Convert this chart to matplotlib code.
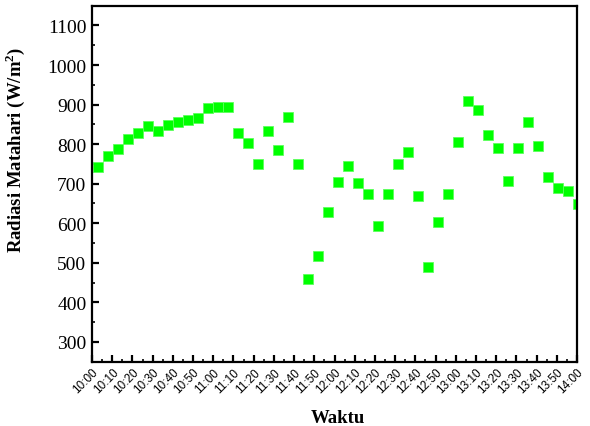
import matplotlib
matplotlib.use("Agg")
import matplotlib.pyplot as plt
from matplotlib.ticker import MultipleLocator, FixedLocator

# minutes after 10:00
minutes = [3.1, 8.1, 13.0, 18.0, 22.9, 27.8, 32.8, 37.7, 42.7, 47.6,
           52.6, 57.5, 62.4, 67.4, 72.3, 77.3, 82.2, 87.2, 92.1, 97.1,
           102.0, 106.9, 111.9, 116.8, 121.8, 126.7, 131.7, 136.6, 141.5, 146.5,
           151.4, 156.4, 161.3, 166.3, 171.2, 176.2, 181.1, 186.0, 191.0, 195.9,
           200.9, 205.8, 210.8, 215.7, 220.7, 225.6, 230.5, 235.5, 240.4]
radiasi = [743, 771, 788, 812, 829, 846, 833, 848, 855, 861,
           867, 892, 895, 893, 829, 804, 751, 832, 784, 868,
           750, 458, 517, 629, 705, 746, 703, 675, 594, 674,
           751, 781, 670, 490, 602, 675, 806, 908, 886, 822,
           791, 707, 789, 857, 796, 718, 689, 682, 648]

tick_pos = list(range(0, 241, 10))
tick_labels = ["10:00", "10:10", "10:20", "10:30", "10:40", "10:50",
               "11:00", "11:10", "11:20", "11:30", "11:40", "11:50",
               "12:00", "12:10", "12:20", "12:30", "12:40", "12:50",
               "13:00", "13:10", "13:20", "13:30", "13:40", "13:50", "14:00"]

plt.rcParams['font.family'] = ['Liberation Serif', 'DejaVu Serif']
plt.rcParams['mathtext.fontset'] = 'custom'
plt.rcParams['mathtext.rm'] = 'Liberation Serif'
plt.rcParams['mathtext.bf'] = 'Liberation Serif:bold'

fig = plt.figure(figsize=(5.9, 4.27), dpi=100)
ax = fig.add_axes([0.156, 0.1506, 0.822, 0.8337])

ax.plot(minutes, radiasi, linestyle='none', marker='s', markersize=7.2,
        markerfacecolor='#00ff00', markeredgecolor='#5cff5c', markeredgewidth=0.6,
        clip_on=True)

ax.set_xlim(0, 240)
ax.set_ylim(250, 1150)

ax.xaxis.set_major_locator(FixedLocator(tick_pos))
ax.set_xticklabels(tick_labels, rotation=45, ha='right', va='top',
                   rotation_mode='anchor', fontsize=8.5,
                   family=['Liberation Sans', 'DejaVu Sans'])
ax.xaxis.set_minor_locator(MultipleLocator(5))
ax.yaxis.set_major_locator(MultipleLocator(100))
ax.yaxis.set_minor_locator(MultipleLocator(50))

ax.tick_params(axis='both', which='major', direction='in', length=5, width=1.6,
               top=False, right=False)
ax.tick_params(axis='both', which='minor', direction='in', length=2.5, width=1.2,
               top=False, right=False)
ax.tick_params(axis='y', labelsize=14, pad=4)
ax.tick_params(axis='x', pad=3)

for sp in ax.spines.values():
    sp.set_linewidth(1.6)

ax.set_ylabel('Radiasi Matahari (W/m$^\\mathbf{2}$)', fontsize=13.5, fontweight='bold')
ax.yaxis.set_label_coords(-0.134, 0.597)
ax.set_xlabel('Waktu', fontsize=13.5, fontweight='bold')
ax.xaxis.set_label_coords(0.507, -0.133)

fig.savefig('out.png', dpi=100)
